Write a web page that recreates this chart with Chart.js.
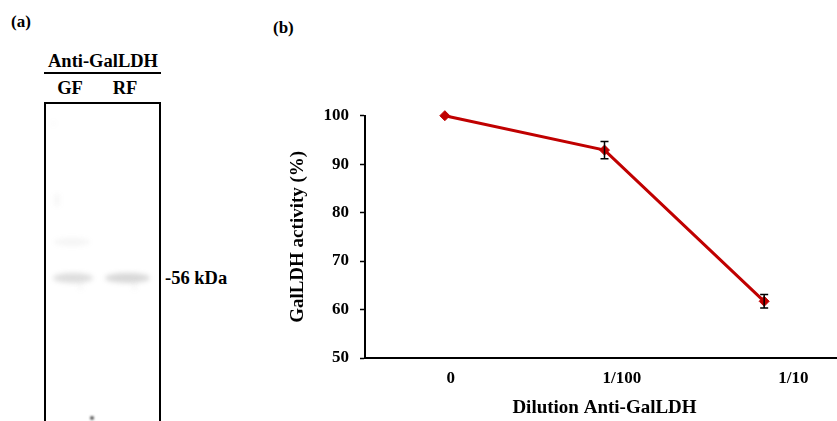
<!DOCTYPE html>
<html>
<head>
<meta charset="utf-8">
<script src="https://cdn.jsdelivr.net/npm/chart.js@4.4.1/dist/chart.umd.min.js"></script>
<style>
  body {
    margin: 0;
    width: 837px;
    height: 421px;
    overflow: hidden;
    background: #fff;
    position: relative;
    font-family: "Liberation Serif", "Times New Roman", "DejaVu Serif", serif;
    font-weight: bold;
    color: #000;
  }
  .lbl { position: absolute; white-space: nowrap; line-height: 1; }
  .ctr { text-align: center; }
  #rule { position: absolute; left: 44px; top: 72px; width: 117px; height: 2px; background: #000; }
  #blot { position: absolute; left: 44px; top: 102px; width: 113px; height: 340px; border: 2.5px solid #000; }
  #chartBox { position: absolute; left: 270px; top: 90px; width: 580px; height: 331px; }
</style>
</head>
<body>

<!-- panel (a): blot -->
<div class="lbl" style="left:11px; top:13px; font-size:17px;">(a)</div>
<div class="lbl ctr" style="left:44px; top:52px; width:118px; font-size:18.5px;">Anti-GalLDH</div>
<div id="rule"></div>
<div class="lbl ctr" style="left:50px; top:79px; width:40px; font-size:18.5px;">GF</div>
<div class="lbl ctr" style="left:105px; top:79px; width:40px; font-size:18.5px;">RF</div>
<div id="blot"><canvas id="blotCanvas" width="113" height="340"></canvas></div>
<div class="lbl" style="left:165px; top:269px; font-size:18.5px;">-56 kDa</div>

<!-- panel (b): chart -->
<div class="lbl" style="left:273px; top:19px; font-size:17px;">(b)</div>
<div id="chartBox"><canvas id="activityChart"></canvas></div>

<script>
// data
const categories = ['0', '1/100', '1/10'];
const activity = [100, 92.9, 61.7];
const activityErr = [0, 1.8, 1.4];
const yTicks = [50, 60, 70, 80, 90, 100];

// blot bands (lane, relative intensity)
const laneNames = ['GF', 'RF'];
const bandIntensity = [0.2, 0.24];

function drawBlot() {
    let ctx = document.getElementById('blotCanvas').getContext('2d');
    let lanes = [{x: 7, w: 40}, {x: 59, w: 45}];
    ctx.filter = 'blur(2.5px)';
    lanes.forEach(function (lane, i) {
        ctx.fillStyle = 'rgba(90,90,90,' + bandIntensity[i] + ')';
        ctx.beginPath();
        ctx.ellipse(lane.x + lane.w / 2, 174, lane.w / 2, 5, 0, 0, Math.PI * 2);
        ctx.fill();
    });
    // faint smears
    ctx.fillStyle = 'rgba(120,120,120,0.07)';
    ctx.beginPath();
    ctx.ellipse(26, 138, 18, 4, 0, 0, Math.PI * 2);
    ctx.fill();
    ctx.fillStyle = 'rgba(120,120,120,0.08)';
    ctx.fillRect(9, 90, 4, 12);
    ctx.fillRect(6, 18, 3, 3);
    ctx.fillRect(33, 178, 3, 8);
    ctx.fillRect(87, 178, 3, 8);
    ctx.filter = 'blur(1px)';
    ctx.fillStyle = 'rgba(40,40,40,0.8)';
    ctx.beginPath();
    ctx.arc(46, 314, 2, 0, Math.PI * 2);
    ctx.fill();
}

// error bars on top of the line
const errorBars = {
    id: 'errorBars',
    afterDatasetsDraw: function (chart) {
        let ctx = chart.ctx;
        let y = chart.scales.y;
        let meta = chart.getDatasetMeta(0);
        ctx.save();
        ctx.strokeStyle = '#000';
        ctx.lineWidth = 1.5;
        meta.data.forEach(function (pt, i) {
            let e = activityErr[i];
            if (!e) return;
            let top = y.getPixelForValue(activity[i] + e);
            let bot = y.getPixelForValue(activity[i] - e);
            ctx.beginPath();
            ctx.moveTo(pt.x, top);
            ctx.lineTo(pt.x, bot);
            ctx.moveTo(pt.x - 4, top);
            ctx.lineTo(pt.x + 4, top);
            ctx.moveTo(pt.x - 4, bot);
            ctx.lineTo(pt.x + 4, bot);
            ctx.stroke();
        });
        ctx.restore();
    }
};

function loadChart() {
    Chart.defaults.color = '#000';
    Chart.defaults.font.family = '"Liberation Serif", "Times New Roman", "DejaVu Serif", serif';
    Chart.defaults.font.weight = 'bold';

    let ctx = document.getElementById('activityChart').getContext('2d');
    let chart = new Chart(ctx, {
        type: 'line',
        data: {
            labels: categories,
            datasets: [{
                label: 'GalLDH activity',
                data: activity,
                clip: false,
                borderColor: '#C00000',
                backgroundColor: '#C00000',
                borderWidth: 3,
                tension: 0,
                pointStyle: 'rectRot',
                pointRadius: 5,
                pointBorderWidth: 1,
                pointBackgroundColor: '#C00000',
                pointBorderColor: '#C00000'
            }]
        },
        options: {
            responsive: true,
            maintainAspectRatio: false,
            animation: false,
            layout: {padding: {top: 25.7, right: 2, left: 0, bottom: 0}},
            plugins: {legend: {display: false}, tooltip: {enabled: false}},
            scales: {
                // data axis: category centres
                x: {
                    type: 'category',
                    offset: true,
                    display: false
                },
                // label axis: draws the baseline, tick labels and title
                x2: {
                    type: 'linear',
                    position: 'bottom',
                    min: -0.5,
                    max: 2.296,
                    afterBuildTicks: function (axis) {
                        axis.ticks = categories.map(function (c, i) { return {value: i}; });
                    },
                    afterFit: function (scale) { scale.height = 63; },
                    grid: {drawOnChartArea: false, drawTicks: false},
                    border: {color: '#000', width: 2},
                    ticks: {
                        padding: 10,
                        maxRotation: 0,
                        font: {size: 17, weight: 'bold'},
                        callback: function (v) { return categories[v]; }
                    },
                    title: {
                        display: true,
                        text: 'Dilution Anti-GalLDH',
                        font: {size: 19, weight: 'bold'},
                        padding: {top: 0, bottom: 2}
                    }
                },
                y: {
                    min: yTicks[0],
                    max: yTicks[yTicks.length - 1],
                    afterFit: function (scale) { scale.width = 95; },
                    grid: {drawOnChartArea: false, tickLength: 5, tickColor: '#000', tickWidth: 1.5},
                    border: {color: '#000', width: 2},
                    ticks: {
                        stepSize: yTicks[1] - yTicks[0],
                        padding: 11,
                        font: {size: 17, weight: 'bold'}
                    },
                    title: {
                        display: true,
                        text: 'GalLDH activity (%)',
                        font: {size: 19, weight: 'bold'},
                        padding: {top: 17, bottom: 0}
                    }
                }
            }
        },
        plugins: [errorBars]
    });
    return chart;
}

drawBlot();
loadChart();
</script>
</body>
</html>
